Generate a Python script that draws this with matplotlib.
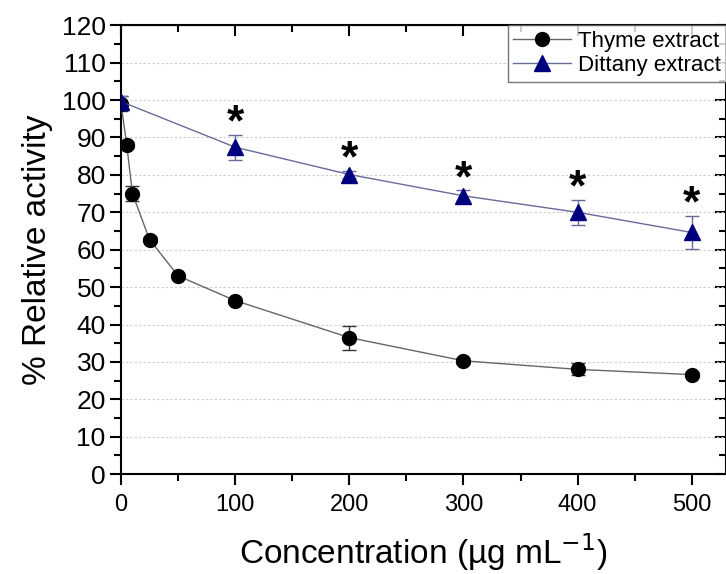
import matplotlib.pyplot as plt
from matplotlib.lines import Line2D
from matplotlib.ticker import MultipleLocator

plt.rcParams['font.family'] = ['Liberation Sans', 'DejaVu Sans']

# Data
thyme_x = [0, 5, 10, 25, 50, 100, 200, 300, 400, 500]
thyme_y = [99.0, 88.0, 75.0, 62.7, 53.0, 46.4, 36.5, 30.3, 28.0, 26.6]
thyme_err = [2.0, 0.8, 2.0, 0.6, 0.6, 0.6, 3.2, 0.8, 1.6, 0.6]

dittany_x = [0, 100, 200, 300, 400, 500]
dittany_y = [99.6, 87.4, 80.1, 74.4, 70.0, 64.6]
dittany_err = [1.5, 3.3, 1.0, 1.5, 3.4, 4.5]

fig = plt.figure(figsize=(7.26, 5.74), dpi=100)
ax = fig.add_axes([0.1667, 0.174, 0.8333, 0.782])

ax.errorbar(thyme_x, thyme_y, yerr=thyme_err, color='#666666', lw=1,
            marker='o', ms=10, mfc='black', mec='black',
            ecolor='#333333', elinewidth=1, capsize=5, zorder=3)
ax.errorbar(dittany_x, dittany_y, yerr=dittany_err, color='#6a6a9a', lw=1,
            marker='^', ms=11, mfc='#00007f', mec='#00007f',
            ecolor='#6a6a9a', elinewidth=1, capsize=5, zorder=3)

# significance stars
for x, y, e in zip(dittany_x[1:], dittany_y[1:], dittany_err[1:]):
    ax.text(x, y + e - 2.6, '*', ha='center', va='bottom', fontsize=32,
            fontweight='bold')

ax.set_xlim(0, 530)
ax.set_ylim(0, 120)
ax.xaxis.set_major_locator(MultipleLocator(100))
ax.xaxis.set_minor_locator(MultipleLocator(50))
ax.yaxis.set_major_locator(MultipleLocator(10))
ax.yaxis.set_minor_locator(MultipleLocator(5))
ax.grid(axis='y', which='major', color='#cccccc', ls=(0, (2, 2)), lw=0.8)
ax.set_axisbelow(True)

ax.tick_params(which='both', direction='out', width=1.5)
ax.tick_params(which='major', length=8)
ax.tick_params(which='minor', length=5)
ax.tick_params(axis='x', labelsize=17, pad=6)
ax.tick_params(axis='y', labelsize=19, pad=3)
for s in ax.spines.values():
    s.set_linewidth(1.5)

sx = ax.secondary_xaxis('top')
sx.xaxis.set_major_locator(MultipleLocator(100))
sx.xaxis.set_minor_locator(MultipleLocator(50))
sx.tick_params(which='major', direction='in', length=8, width=1.5, labeltop=False)
sx.tick_params(which='minor', direction='in', length=5, width=1.5)
sy = ax.secondary_yaxis('right')
sy.yaxis.set_major_locator(MultipleLocator(10))
sy.yaxis.set_minor_locator(MultipleLocator(5))
sy.tick_params(which='major', direction='in', length=8, width=1.5, labelright=False)
sy.tick_params(which='minor', direction='in', length=5, width=1.5)

ax.set_xlabel('Concentration (µg mL$^{-1}$)', fontsize=24, labelpad=11)
ax.set_ylabel('% Relative activity', fontsize=24, labelpad=6)

handles = [
    Line2D([], [], color='#666666', lw=1, marker='o', ms=10, mfc='black', mec='black'),
    Line2D([], [], color='#6a6a9a', lw=1, marker='^', ms=11, mfc='#00007f', mec='#00007f'),
]
leg = ax.legend(handles, ['Thyme extract', 'Dittany extract'], loc='upper right',
                fontsize=16, frameon=True, fancybox=False, edgecolor='#555555',
                borderaxespad=0, handlelength=2.6, handletextpad=0.3,
                borderpad=0.25, labelspacing=0.15)
leg.get_frame().set_linewidth(1)

plt.savefig('out.png', dpi=100)
